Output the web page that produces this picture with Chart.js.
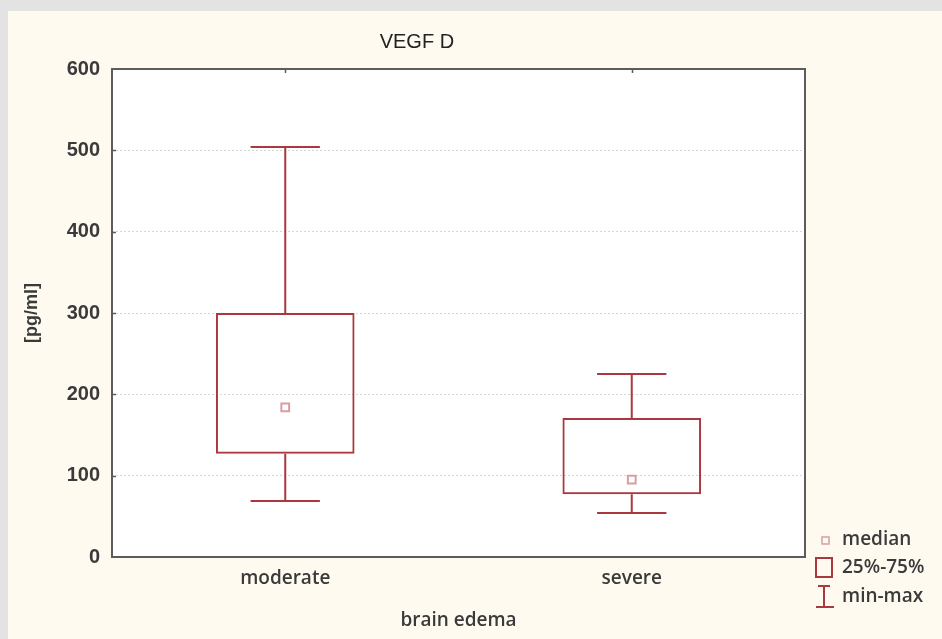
<!DOCTYPE html>
<html>
<head>
<meta charset="utf-8">
<script src="https://cdn.jsdelivr.net/npm/chart.js@4.4.1/dist/chart.umd.min.js"></script>
<style>
    body { margin: 0; background: #e3e3e3; width: 942px; height: 639px; overflow: hidden; }
    #wrap { position: absolute; left: 8px; top: 11px; width: 934px; height: 628px; background: #fffaf0; }
</style>
</head>
<body>
<div id="wrap"><canvas id="chart" width="934" height="628"></canvas></div>
<script>
// Dati del box plot
const categories = ['moderate', 'severe'];
const minValues = [69, 54];
const q1Values = [127, 77];
const medianValues = [184, 95];
const q3Values = [300, 171];
const maxValues = [504, 225];
const yTicks = [0, 100, 200, 300, 400, 500, 600];

const boxColor = '#a9393e';
const medianColor = '#d99ea1';
const textColor = '#3a3a3a';

// Sfondo bianco dell'area del grafico
const plotBackground = {
    id: 'plotBackground',
    beforeDraw(chart) {
        const { ctx, chartArea: a } = chart;
        ctx.save();
        ctx.fillStyle = '#ffffff';
        ctx.fillRect(a.left, a.top, a.right - a.left, a.bottom - a.top);
        ctx.restore();
    }
};

// Baffi min-max disegnati sulle barre
const whiskers = {
    id: 'whiskers',
    afterDatasetsDraw(chart) {
        const { ctx } = chart;
        const y = chart.scales.y;
        const meta = chart.getDatasetMeta(0);
        ctx.save();
        ctx.strokeStyle = boxColor;
        ctx.lineWidth = 2;
        meta.data.forEach((bar, i) => {
            const x = bar.x;
            const half = bar.width / 4;
            const yMax = y.getPixelForValue(maxValues[i]);
            const yQ3 = y.getPixelForValue(q3Values[i]);
            const yQ1 = y.getPixelForValue(q1Values[i]);
            const yMin = y.getPixelForValue(minValues[i]);
            ctx.beginPath();
            ctx.moveTo(x, yQ3); ctx.lineTo(x, yMax);
            ctx.moveTo(x - half, yMax); ctx.lineTo(x + half, yMax);
            ctx.moveTo(x, yQ1); ctx.lineTo(x, yMin);
            ctx.moveTo(x - half, yMin); ctx.lineTo(x + half, yMin);
            ctx.stroke();
        });
        ctx.restore();
    }
};

// Cornice, tacche interne, titolo e legenda
const frameAndLegend = {
    id: 'frameAndLegend',
    afterDraw(chart) {
        const { ctx, chartArea: a } = chart;
        const xs = chart.scales.x;
        const ys = chart.scales.y;
        ctx.save();
        ctx.strokeStyle = '#5c5c5c';
        ctx.lineWidth = 2;
        ctx.strokeRect(a.left, a.top, a.right - a.left, a.bottom - a.top);

        ctx.lineWidth = 1.5;
        ctx.beginPath();
        yTicks.slice(1, -1).forEach(v => {
            const py = Math.round(ys.getPixelForValue(v)) + 0.5;
            ctx.moveTo(a.left, py); ctx.lineTo(a.left + 4, py);
        });
        categories.forEach((c, i) => {
            const px = Math.round(xs.getPixelForValue(i)) + 0.5;
            ctx.moveTo(px, a.top); ctx.lineTo(px, a.top + 4);
        });
        ctx.stroke();

        // Titolo
        ctx.fillStyle = '#222';
        ctx.font = '20px "Liberation Sans", Arial, sans-serif';
        ctx.textAlign = 'center';
        ctx.textBaseline = 'middle';
        ctx.fillText('VEGF D', a.left + (a.right - a.left) * 0.44, 31);

        // Legenda
        const lx = a.right + 11;
        ctx.font = '600 19px "Open Sans", sans-serif';
        ctx.textAlign = 'left';
        ctx.fillStyle = textColor;
        ctx.fillText('median', lx + 26, 529);
        ctx.fillText('25%-75%', lx + 26, 557);
        ctx.fillText('min-max', lx + 26, 586);

        ctx.strokeStyle = medianColor;
        ctx.lineWidth = 1.5;
        ctx.strokeRect(lx + 6, 526, 7, 7);

        ctx.strokeStyle = boxColor;
        ctx.lineWidth = 2;
        ctx.strokeRect(lx, 547, 16, 19);
        ctx.beginPath();
        ctx.moveTo(lx + 8, 575); ctx.lineTo(lx + 8, 596);
        ctx.moveTo(lx + 2, 575); ctx.lineTo(lx + 14, 575);
        ctx.moveTo(lx, 596); ctx.lineTo(lx + 18, 596);
        ctx.stroke();
        ctx.restore();
    }
};

new Chart(document.getElementById('chart'), {
    data: {
        labels: categories,
        datasets: [{
            type: 'bar',
            label: '25%-75%',
            data: categories.map((c, i) => [q1Values[i], q3Values[i]]),
            backgroundColor: 'rgba(0,0,0,0)',
            borderColor: boxColor,
            borderWidth: 2,
            borderSkipped: false,
            categoryPercentage: 1,
            barPercentage: 0.4
        }, {
            type: 'line',
            label: 'median',
            data: medianValues,
            showLine: false,
            pointStyle: 'rect',
            pointRadius: 5.5,
            borderWidth: 2,
            borderColor: medianColor,
            backgroundColor: 'rgba(0,0,0,0)'
        }]
    },
    options: {
        responsive: false,
        animation: false,
        layout: { padding: { top: 58, right: 137, left: 0, bottom: 0 } },
        plugins: {
            legend: { display: false },
            tooltip: { enabled: false },
            title: { display: false }
        },
        scales: {
            x: {
                offset: true,
                grid: { display: false, drawTicks: false },
                border: { display: false },
                ticks: {
                    padding: 10,
                    color: textColor,
                    font: { family: '"Open Sans", sans-serif', size: 19, weight: '600' }
                },
                title: {
                    display: true,
                    text: 'brain edema',
                    color: textColor,
                    padding: { top: 0, bottom: 7 },
                    font: { family: '"Open Sans", sans-serif', size: 19, weight: '600' }
                },
                afterFit(scale) { scale.height = 82; }
            },
            y: {
                min: 0,
                max: 600,
                afterBuildTicks(scale) { scale.ticks = yTicks.map(v => ({ value: v })); },
                grid: {
                    drawTicks: false,
                    lineWidth: 1,
                    color: ctx => (ctx.tick && (ctx.tick.value === 0 || ctx.tick.value === 600)) ? 'rgba(0,0,0,0)' : '#d6d6d6'
                },
                border: { display: false, dash: [2, 2] },
                ticks: {
                    padding: 12,
                    color: textColor,
                    font: { family: '"Liberation Sans", Arial, sans-serif', size: 20, weight: 'bold' }
                },
                title: {
                    display: true,
                    text: '[pg/ml]',
                    color: textColor,
                    padding: { top: 13, bottom: 0 },
                    font: { family: '"Liberation Sans", Arial, sans-serif', size: 18, weight: 'bold' }
                },
                afterFit(scale) { scale.width = 104; }
            }
        }
    },
    plugins: [plotBackground, whiskers, frameAndLegend]
});
</script>
</body>
</html>
